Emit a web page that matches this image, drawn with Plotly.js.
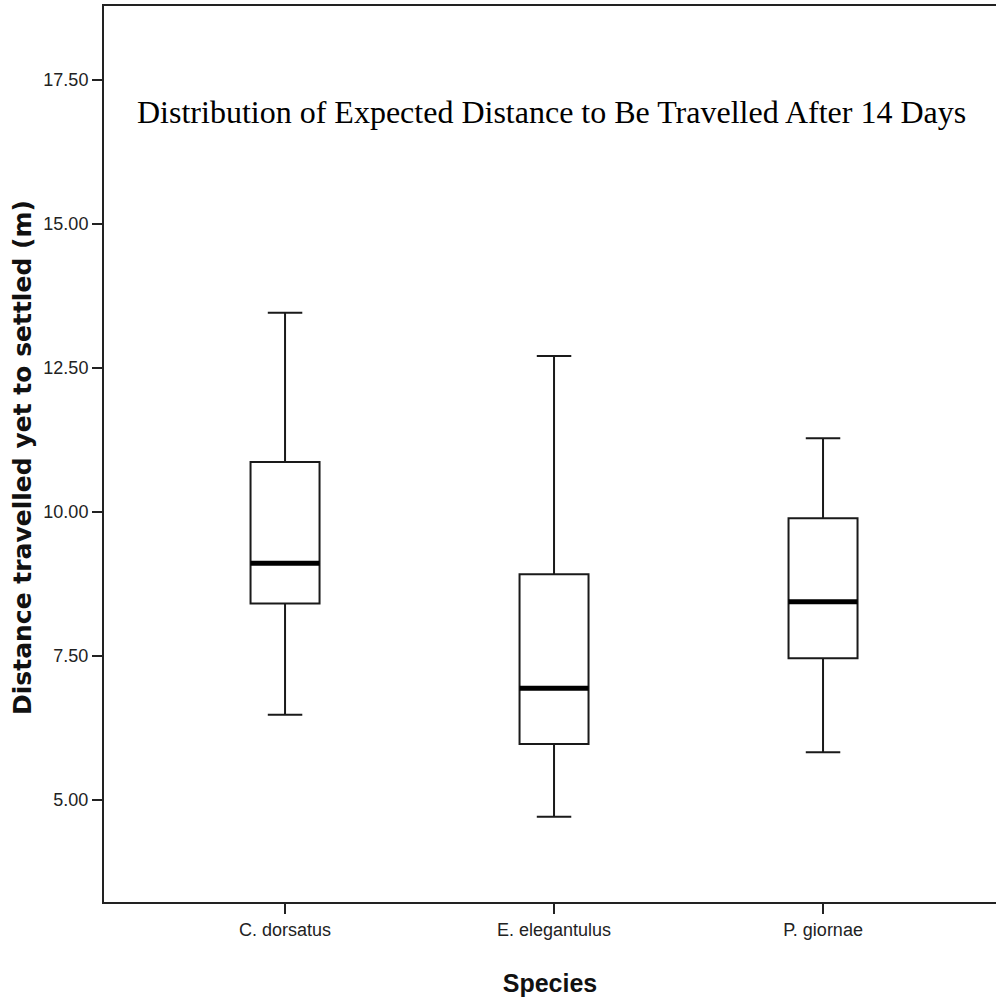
<!DOCTYPE html>
<html>
<head>
<meta charset="utf-8">
<script src="https://cdn.plot.ly/plotly-3.0.1.min.js"></script>
<style>
  html, body { margin: 0; padding: 0; background: #ffffff; overflow: hidden; }
  #chart { width: 996px; height: 999px; }
</style>
</head>
<body>
<div id="chart"></div>
<script>
// ---- data ----
const species      = ["C. dorsatus", "E. elegantulus", "P. giornae"];
const lowerWhisker = [6.48, 4.71, 5.83];
const quartile1    = [8.41, 5.97, 7.46];
const medians      = [9.11, 6.94, 8.44];
const quartile3    = [10.87, 8.92, 9.89];
const upperWhisker = [13.46, 12.71, 11.28];
const yTickVals    = [5, 7.5, 10, 12.5, 15, 17.5];
const yTickText    = ["5.00", "7.50", "10.00", "12.50", "15.00", "17.50"];

const chartTitle = "Distribution of Expected Distance to Be Travelled After 14 Days";
const xTitle = "Species";
const yTitle = "Distance travelled yet to settled (m)";

const boxWidth = 0.2565;
const tickFont = { family: "'Liberation Sans', Arial, sans-serif", size: 18, color: "#222" };

const trace = {
  type: "box",
  x: species,
  q1: quartile1,
  median: medians,
  q3: quartile3,
  lowerfence: lowerWhisker,
  upperfence: upperWhisker,
  width: boxWidth,
  whiskerwidth: 0.5,
  fillcolor: "#ffffff",
  line: { color: "#1a1a1a", width: 2 },
  boxpoints: false,
  hoverinfo: "skip",
  showlegend: false
};

// thicker median bars, drawn on the data axes from the median values
const medianShapes = medians.map((m, i) => ({
  type: "line", xref: "x", yref: "y",
  x0: i - boxWidth / 2, x1: i + boxWidth / 2,
  y0: m, y1: m,
  line: { color: "#000000", width: 5 },
  layer: "above"
}));

const layout = {
  width: 996,
  height: 999,
  margin: { l: 104, r: 0, t: 6, b: 97 },
  paper_bgcolor: "#ffffff",
  plot_bgcolor: "#ffffff",
  title: {
    text: chartTitle,
    font: { family: "'Liberation Serif', 'Times New Roman', serif", size: 32, color: "#000" },
    xref: "paper", x: 0.037, xanchor: "left",
    yref: "container", y: 0.888, yanchor: "middle"
  },
  xaxis: {
    type: "category",
    range: [-0.673, 2.643],
    showline: true, linecolor: "#222", linewidth: 2,
    mirror: true,
    showgrid: false, zeroline: false,
    ticks: "outside", ticklen: 10, tickwidth: 2, tickcolor: "#222",
    tickfont: tickFont,
    title: {
      text: xTitle,
      font: { family: "'Liberation Sans', Arial, sans-serif", size: 25, color: "#111", weight: "bold" },
      standoff: 36
    }
  },
  yaxis: {
    range: [3.229, 18.785],
    tickvals: yTickVals,
    ticktext: yTickText,
    showline: true, linecolor: "#222", linewidth: 2,
    showgrid: false, zeroline: false,
    ticks: "outside", ticklen: 10, tickwidth: 2, tickcolor: "#222",
    tickfont: tickFont
  },
  annotations: [{
    text: yTitle,
    textangle: -90,
    xref: "paper", yref: "paper",
    x: 0, y: (902 - 458) / 896,
    xanchor: "center", yanchor: "middle",
    xshift: -82,
    showarrow: false,
    font: { family: "'DejaVu Sans', Verdana, sans-serif", size: 25, color: "#111", weight: "bold" }
  }],
  shapes: medianShapes
};

Plotly.newPlot("chart", [trace], layout, { displayModeBar: false, staticPlot: true });
</script>
</body>
</html>
